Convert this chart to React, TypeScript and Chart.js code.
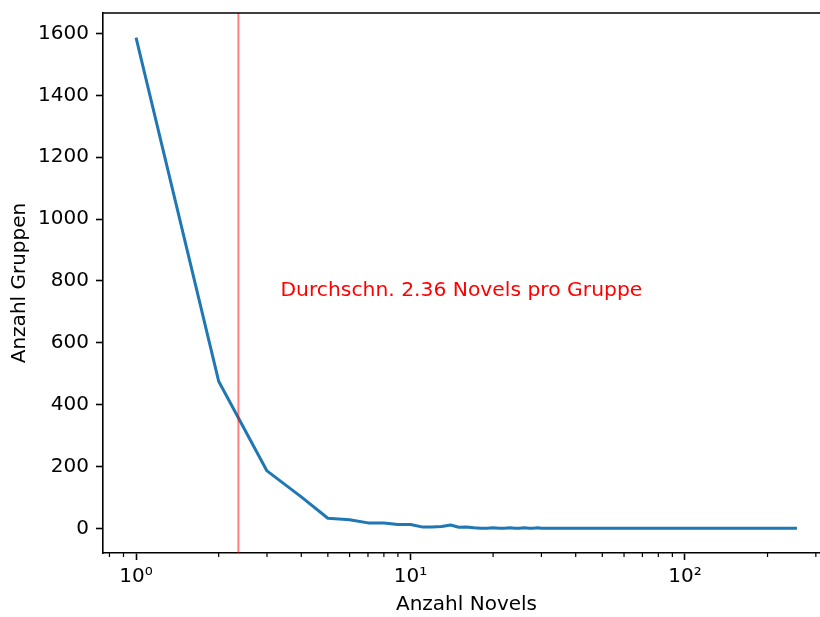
import { useEffect, useRef } from 'react';
import { Chart, registerables } from 'chart.js';

Chart.register(...registerables);

// ---- data ----
const novelCounts = [
  1, 2, 3, 4, 5, 6, 7, 8, 9, 10, 11, 12, 13, 14, 15, 16, 17, 18, 19, 20,
  21, 22, 23, 24, 25, 26, 27, 28, 29, 30, 31, 32, 33, 34, 36, 38, 40, 43,
  45, 48, 52, 57, 63, 70, 84, 97, 125, 256,
];
const groupCounts = [
  1587, 476, 186, 102, 33, 28, 18, 18, 13, 13, 5, 5, 6, 11, 4, 5, 2, 1, 1, 2,
  1, 1, 2, 1, 1, 2, 1, 1, 2, 1, 1, 1, 1, 1, 1, 1, 1, 1,
  1, 1, 1, 1, 1, 1, 1, 1, 1, 1,
];
const meanNovels = 2.36;
const annotationX = 3.36;
const annotationY = 750;
const annotationText = 'Durchschn. 2.36 Novels pro Gruppe';
const xTitle = 'Anzahl Novels';
const yTitle = 'Anzahl Gruppen';
const yTickValues = [0, 200, 400, 600, 800, 1000, 1200, 1400, 1600];
const xMajorTicks = [1, 10, 100];
const xMajorLabels = ['10⁰', '10¹', '10²'];
const xMinorTicks = [0.8, 0.9, 2, 3, 4, 5, 6, 7, 8, 9, 20, 30, 40, 50, 60, 70, 80, 90, 200, 300];

const FONT = "'DejaVu Sans', sans-serif";

export default function App() {
  const canvasRef = useRef<HTMLCanvasElement | null>(null);

  useEffect(() => {
    const canvas = canvasRef.current;
    if (!canvas) return;

    const xs = novelCounts;
    const logMin = Math.log10(Math.min(...xs));
    const logMax = Math.log10(Math.max(...xs));
    const lm = (logMax - logMin) * 0.05;
    const yMaxData = Math.max(...groupCounts);
    const ym = yMaxData * 0.05;

    const extras = {
      id: 'extras',
      afterDatasetsDraw(chart: any) {
        const { ctx, chartArea, scales } = chart;
        const xs = scales.x;
        const ys = scales.y;
        ctx.save();
        // mean line
        const mx = xs.getPixelForValue(meanNovels);
        ctx.strokeStyle = 'rgba(255,0,0,0.5)';
        ctx.lineWidth = 2;
        ctx.beginPath();
        ctx.moveTo(mx, chartArea.top);
        ctx.lineTo(mx, chartArea.bottom);
        ctx.stroke();
        // annotation
        ctx.fillStyle = '#ff0000';
        ctx.font = `20.3px ${FONT}`;
        ctx.textAlign = 'left';
        ctx.textBaseline = 'alphabetic';
        ctx.fillText(annotationText, xs.getPixelForValue(annotationX), ys.getPixelForValue(annotationY));
        // top & right spines
        ctx.strokeStyle = '#000';
        ctx.lineWidth = 1.6;
        ctx.beginPath();
        ctx.moveTo(chartArea.left, chartArea.top);
        ctx.lineTo(chartArea.right, chartArea.top);
        ctx.lineTo(chartArea.right, chartArea.bottom);
        ctx.stroke();
        // minor ticks
        ctx.lineWidth = 1.2;
        ctx.beginPath();
        for (const v of xMinorTicks) {
          const px = xs.getPixelForValue(v);
          if (px < chartArea.left || px > chartArea.right) continue;
          ctx.moveTo(px, chartArea.bottom);
          ctx.lineTo(px, chartArea.bottom + 4);
        }
        ctx.stroke();
        ctx.restore();
      },
    };

    const chart = new Chart(canvas, {
      type: 'line',
      data: {
        datasets: [
          {
            data: novelCounts.map((x, i) => ({ x, y: groupCounts[i] })),
            borderColor: '#1f77b4',
            borderWidth: 3,
            pointRadius: 0,
            tension: 0,
            borderJoinStyle: 'round',
            borderCapStyle: 'butt',
          },
        ],
      },
      options: {
        animation: false,
        responsive: false,
        devicePixelRatio: 1,
        layout: { padding: { top: 13, right: 10, left: 0, bottom: 0 } },
        plugins: { legend: { display: false }, tooltip: { enabled: false } },
        scales: {
          x: {
            type: 'logarithmic',
            min: Math.pow(10, logMin - lm),
            max: Math.pow(10, logMax + lm),
            afterBuildTicks: (scale: any) => {
              scale.ticks = xMajorTicks.map((v) => ({ value: v, major: true }));
            },
            afterFit: (scale: any) => {
              scale.height = 64;
              scale.paddingLeft = 0;
              scale.paddingRight = 0;
            },
            ticks: {
              autoSkip: false,
              maxRotation: 0,
              padding: 5,
              color: '#000',
              font: { family: FONT, size: 20 },
              callback: (value: any) => {
                const i = xMajorTicks.indexOf(Number(value));
                return i >= 0 ? xMajorLabels[i] : '';
              },
            },
            grid: {
              display: true,
              drawOnChartArea: false,
              drawTicks: true,
              tickLength: 7,
              tickWidth: 1.6,
              tickColor: '#000',
            },
            border: { display: true, color: '#000', width: 1.6 },
            title: {
              display: true,
              text: xTitle,
              color: '#000',
              font: { family: FONT, size: 20, lineHeight: 1.2 },
              padding: { top: 0, bottom: 0 },
            },
          },
          y: {
            type: 'linear',
            min: -ym,
            max: yMaxData + ym,
            afterBuildTicks: (scale: any) => {
              scale.ticks = yTickValues.map((v) => ({ value: v }));
            },
            afterFit: (scale: any) => {
              scale.width = 103;
              scale.paddingTop = 0;
              scale.paddingBottom = 0;
            },
            ticks: {
              padding: 7,
              color: '#000',
              font: { family: FONT, size: 20 },
              callback: (value: any) => String(value),
            },
            grid: {
              display: true,
              drawOnChartArea: false,
              drawTicks: true,
              tickLength: 7,
              tickWidth: 1.6,
              tickColor: '#000',
            },
            border: { display: true, color: '#000', width: 1.6 },
            title: {
              display: true,
              text: yTitle,
              color: '#000',
              font: { family: FONT, size: 20, lineHeight: 1.2 },
              padding: { top: 8, bottom: 0 },
            },
          },
        },
      },
      plugins: [extras],
    } as any);

    return () => chart.destroy();
  }, []);

  return (
    <div
      style={{
        position: 'fixed',
        left: 0,
        top: 0,
        width: 820,
        height: 617,
        overflow: 'hidden',
        background: '#fff',
      }}
    >
      <canvas ref={canvasRef} width={840} height={617} style={{ width: 840, height: 617, display: 'block' }} />
    </div>
  );
}
